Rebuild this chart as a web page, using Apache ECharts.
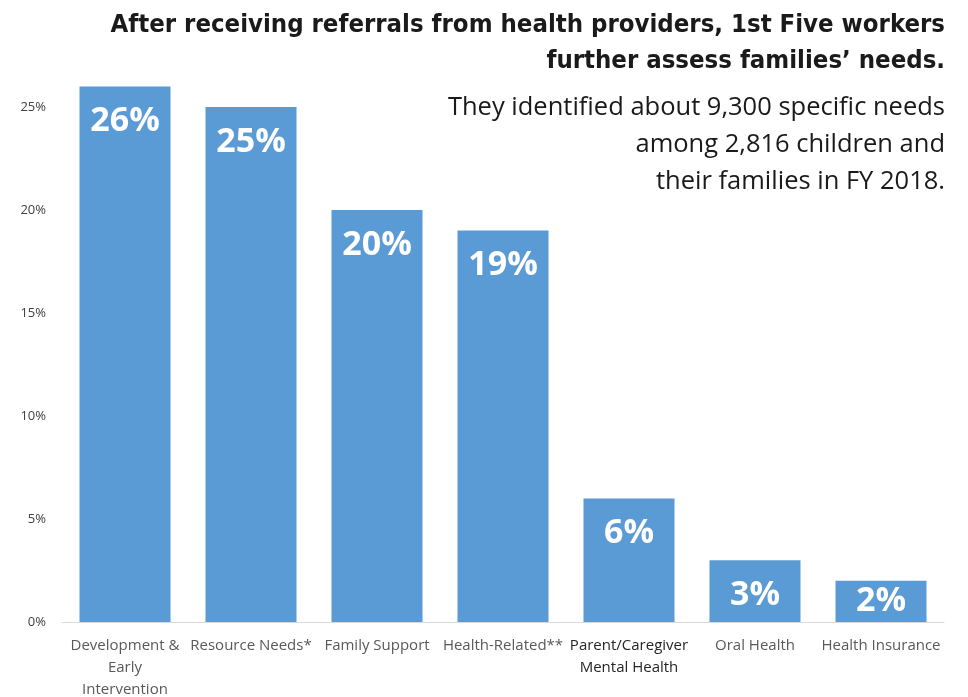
<!DOCTYPE html>
<html>
<head>
<meta charset="utf-8">
<script src="https://cdn.jsdelivr.net/npm/echarts@6/dist/echarts.min.js"></script>
<style>
  html, body { margin: 0; padding: 0; background: #fff; }
  #chart { width: 968px; height: 697px; }
</style>
</head>
<body>
<div id="chart"></div>
<script>
// data
var categories = ['Development &\nEarly\nIntervention', 'Resource Needs*', 'Family Support',
  'Health-Related**', 'Parent/Caregiver\nMental Health', 'Oral Health', 'Health Insurance'];
var shares = [26, 25, 20, 19, 6, 3, 2];
var yTicks = [0, 5, 10, 15, 20, 25];

var titleLines = ['After receiving referrals from health providers, 1st Five workers',
  'further assess families\u2019 needs.'];
var noteLines = ['They identified about 9,300 specific needs', 'among 2,816 children and',
  'their families in FY 2018.'];

var chart = echarts.init(document.getElementById('chart'));

var graphics = [];
titleLines.forEach(function (t, i) {
  graphics.push({
    type: 'text', right: 23, top: 12 + i * 36,
    style: { text: t, fill: '#1a1a1a', font: 'bold 25.5px "DejaVu Sans Condensed", sans-serif', textAlign: 'right' }
  });
});
noteLines.forEach(function (t, i) {
  graphics.push({
    type: 'text', right: 23, top: 95 + i * 37,
    style: { text: t, fill: '#1a1a1a', font: '25.5px "Open Sans", sans-serif', textAlign: 'right' }
  });
});

// small bars keep their label in the middle of the bar
var barData = shares.map(function (v) {
  return v < 3 ? { value: v, label: { position: 'inside' } } : v;
});

chart.setOption({
  animation: false,
  grid: { left: 62, right: 24, top: 4, bottom: 75, containLabel: false, outerBoundsMode: 'none' },
  xAxis: {
    type: 'category',
    data: categories,
    axisLine: { lineStyle: { color: '#d9d9d9', width: 1 } },
    axisTick: { show: false },
    axisLabel: {
      interval: 0, color: '#595959', fontSize: 15, lineHeight: 22, margin: 13,
      fontFamily: '"Open Sans", sans-serif',
      formatter: function (v) { return v.indexOf('Parent') === 0 ? '{d|' + v.replace('\n', '}\n{d|') + '}' : v; },
      rich: { d: { color: '#262626', fontSize: 15, lineHeight: 22, fontFamily: '"Open Sans", sans-serif' } }
    }
  },
  yAxis: {
    type: 'value', min: 0, max: 30, interval: 5,
    splitLine: { show: false },
    axisLine: { show: false },
    axisTick: { show: false },
    axisLabel: {
      color: '#404040', fontSize: 13, margin: 16, fontFamily: '"Open Sans", sans-serif',
      formatter: function (v) { return yTicks.indexOf(v) >= 0 ? v + '%' : ''; }
    }
  },
  series: [{
    type: 'bar',
    data: barData,
    barWidth: 91,
    itemStyle: { color: '#5b9bd5' },
    label: {
      show: true, position: 'insideTop', distance: 18,
      color: '#fff', fontSize: 34, fontWeight: 'bold', fontFamily: '"Open Sans", sans-serif',
      formatter: '{c}%'
    }
  }],
  graphic: graphics
});
</script>
</body>
</html>
